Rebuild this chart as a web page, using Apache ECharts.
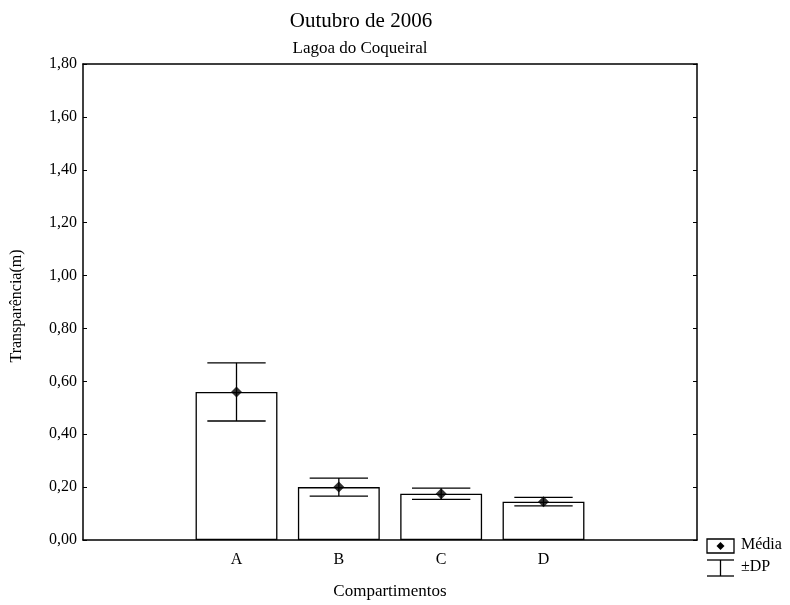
<!DOCTYPE html>
<html>
<head>
<meta charset="utf-8">
<script src="https://cdn.jsdelivr.net/npm/echarts@6/dist/echarts.min.js"></script>
<style>html,body{margin:0;padding:0;background:#fff}#c{width:790px;height:605px}</style>
</head>
<body>
<div id="c"></div>
<script>
var categories = ['', 'A', 'B', 'C', 'D', ''];
var means = [null, 0.56, 0.20, 0.175, 0.145, null];
var sds = [null, 0.11, 0.034, 0.021, 0.016, null];
var yTicks = [0, 0.2, 0.4, 0.6, 0.8, 1.0, 1.2, 1.4, 1.6, 1.8];

var FONT = 'Liberation Serif';
var errData = [];
var meanData = [];
for (var i = 0; i < categories.length; i++) {
  if (means[i] != null) {
    errData.push([i, means[i] - sds[i], means[i] + sds[i]]);
    meanData.push([i, means[i]]);
  }
}

var chart = echarts.init(document.getElementById('c'));
var axisLineStyle = {color: '#000', width: 1.5};
chart.setOption({
  animation: false,
  backgroundColor: '#fff',
  textStyle: {fontFamily: FONT, color: '#000'},
  title: [
    {text: 'Outubro de 2006', left: 356, top: 6, textAlign: 'center',
     textStyle: {fontFamily: FONT, fontSize: 21, fontWeight: 'normal', color: '#000'}},
    {text: 'Lagoa do Coqueiral', left: 355, top: 35, textAlign: 'center',
     textStyle: {fontFamily: FONT, fontSize: 17, fontWeight: 'normal', color: '#000'}}
  ],
  grid: {left: 83, right: 93, top: 64, bottom: 64, containLabel: false},
  xAxis: [
    {type: 'category', data: categories, position: 'bottom',
     name: 'Compartimentos', nameLocation: 'middle', nameGap: 43,
     nameTextStyle: {fontFamily: FONT, fontSize: 17, color: '#000'},
     axisLine: {onZero: false, lineStyle: axisLineStyle},
     axisTick: {inside: true, alignWithLabel: true, length: 4, lineStyle: {color: '#000'}},
     axisLabel: {fontFamily: FONT, fontSize: 16, color: '#000', margin: 12},
     splitLine: {show: false}},
    {type: 'category', data: categories, position: 'top',
     axisLine: {onZero: false, lineStyle: axisLineStyle},
     axisTick: {inside: true, alignWithLabel: true, length: 4, lineStyle: {color: '#000'}},
     axisLabel: {show: false}, splitLine: {show: false}}
  ],
  yAxis: [
    {type: 'value', min: 0, max: 1.8, interval: 0.2, position: 'left',
     name: 'Transparência(m)', nameLocation: 'middle', nameGap: 58, nameRotate: 90,
     nameTextStyle: {fontFamily: FONT, fontSize: 16, color: '#000', padding: [0, 8, 0, 0]},
     axisLine: {show: true, onZero: false, lineStyle: axisLineStyle},
     axisTick: {show: true, inside: true, length: 4, lineStyle: {color: '#000'}},
     axisLabel: {fontFamily: FONT, fontSize: 16, color: '#000', margin: 6,
       formatter: function (v) { return v.toFixed(2).replace('.', ','); }},
     splitLine: {show: false}},
    {type: 'value', min: 0, max: 1.8, interval: 0.2, position: 'right',
     axisLine: {show: true, onZero: false, lineStyle: axisLineStyle},
     axisTick: {show: true, inside: true, length: 4, lineStyle: {color: '#000'}},
     axisLabel: {show: false}, splitLine: {show: false}}
  ],
  series: [
    {type: 'bar', data: means, barWidth: '80%', xAxisIndex: 0, yAxisIndex: 0,
     itemStyle: {color: '#fff', borderColor: '#000', borderWidth: 1.3}},
    {type: 'custom', data: errData, xAxisIndex: 0, yAxisIndex: 0, z: 5,
     renderItem: function (params, api) {
       var x = api.value(0);
       var lo = api.coord([x, api.value(1)]);
       var hi = api.coord([x, api.value(2)]);
       var bw = api.size([1, 0])[0];
       var hw = bw * 0.285;
       var st = {stroke: '#000', lineWidth: 1.3};
       return {type: 'group', children: [
         {type: 'line', shape: {x1: hi[0], y1: hi[1], x2: lo[0], y2: lo[1]}, style: st},
         {type: 'line', shape: {x1: hi[0] - hw, y1: hi[1], x2: hi[0] + hw, y2: hi[1]}, style: st},
         {type: 'line', shape: {x1: lo[0] - hw, y1: lo[1], x2: lo[0] + hw, y2: lo[1]}, style: st}
       ]};
     }},
    {type: 'scatter', data: meanData, symbol: 'diamond', symbolSize: 11, z: 6,
     itemStyle: {color: '#000'}}
  ],
  graphic: [
    {type: 'rect', shape: {x: 707, y: 539, width: 27, height: 14},
     style: {fill: '#fff', stroke: '#000', lineWidth: 1.3}},
    {type: 'polygon', shape: {points: [[720.5, 542], [724.5, 546], [720.5, 550], [716.5, 546]]},
     style: {fill: '#000'}},
    {type: 'text', left: 741, top: 537, style: {text: 'Média', font: '16px "Liberation Serif"', fill: '#000'}},
    {type: 'line', shape: {x1: 707, y1: 560, x2: 734, y2: 560}, style: {stroke: '#000', lineWidth: 1.3}},
    {type: 'line', shape: {x1: 720.5, y1: 560, x2: 720.5, y2: 576}, style: {stroke: '#000', lineWidth: 1.3}},
    {type: 'line', shape: {x1: 707, y1: 576, x2: 734, y2: 576}, style: {stroke: '#000', lineWidth: 1.3}},
    {type: 'text', left: 741, top: 559, style: {text: '±DP', font: '16px "Liberation Serif"', fill: '#000'}}
  ]
});
</script>
</body>
</html>
